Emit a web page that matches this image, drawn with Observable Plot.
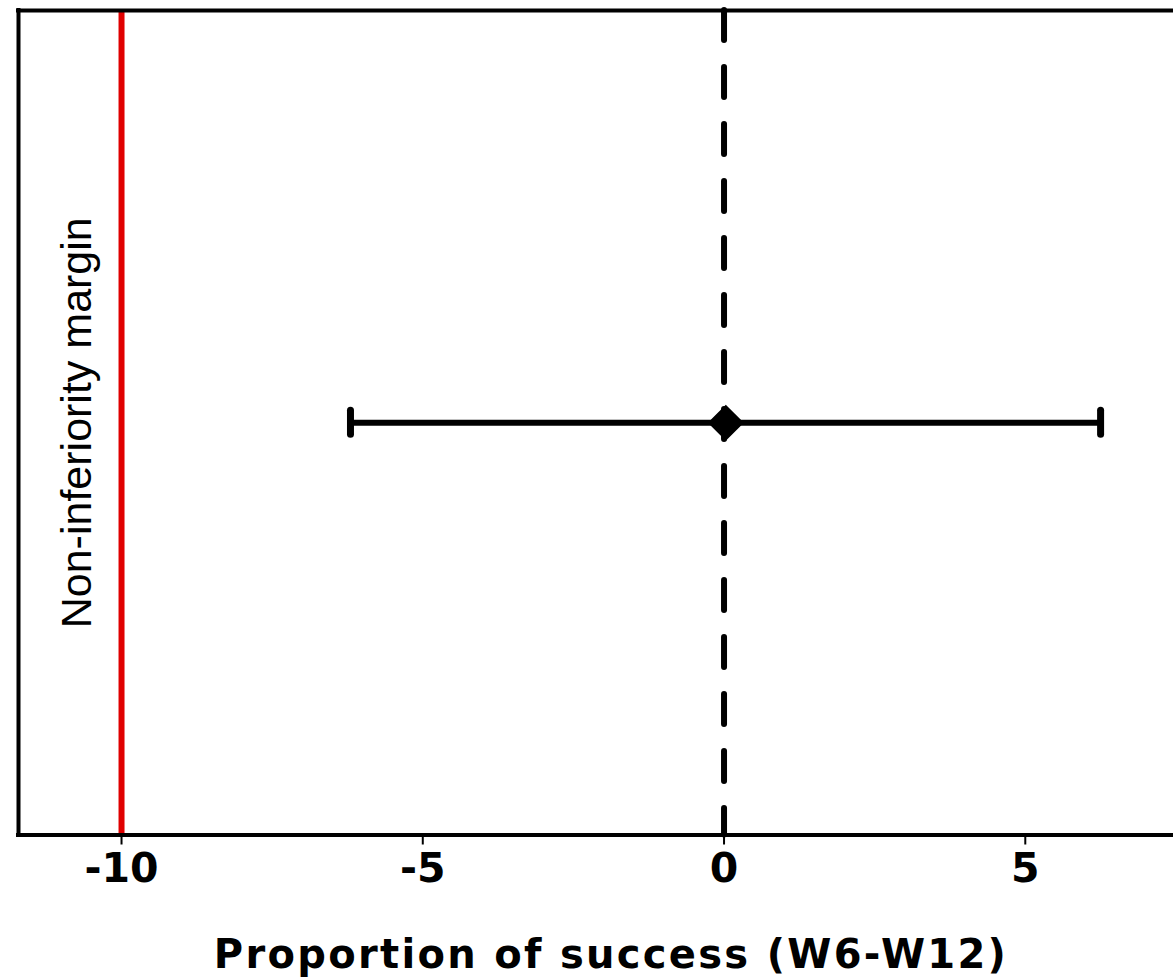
<!DOCTYPE html>
<html>
<head>
<meta charset="utf-8">
<script src="https://cdn.jsdelivr.net/npm/d3@7"></script>
<script src="https://cdn.jsdelivr.net/npm/@observablehq/plot@0.6"></script>
<style>
  html, body { margin: 0; padding: 0; background: #fff; }
</style>
</head>
<body>
<div id="chart"></div>
<script>
// ---- data ----
const rows = [1];                 // single comparison row
const estimate = [0.03];          // point estimate
const lower = [-6.2];             // lower CI bound
const upper = [6.25];             // upper CI bound
const marginValue = [-10];        // non-inferiority margin
const referenceValue = [0];       // no-difference line
const xTicks = [-10, -5, 0, 5];
const xDomain = [-11.71, 7.46];
const yDomain = [0, 2];
const marginLabel = "Non-inferiority margin";
const xTitle = "Proportion of success (W6-W12)";

const ci = rows.map((r, i) => ({row: r, est: estimate[i], lo: lower[i], hi: upper[i]}));

const chart = Plot.plot({
  width: 1173,
  height: 978,
  marginLeft: 18,
  marginTop: 10,
  marginBottom: 143.5,
  marginRight: 0,
  style: {background: "#fff", color: "#000", fontFamily: "'DejaVu Sans', sans-serif"},
  x: {domain: xDomain, ticks: xTicks},
  y: {domain: yDomain, axis: null},
  marks: [
    // margin and reference lines
    Plot.ruleX(marginValue, {stroke: "#e00000", strokeWidth: 6}),
    Plot.ruleX(referenceValue, {stroke: "#000", strokeWidth: 6, strokeDasharray: "30,27", strokeLinecap: "round"}),
    // frame (left, top, bottom)
    Plot.ruleY(yDomain, {stroke: "#000", strokeWidth: 4, strokeLinecap: "square"}),
    Plot.ruleX([xDomain[0]], {stroke: "#000", strokeWidth: 4, strokeLinecap: "square"}),
    // confidence interval
    Plot.ruleY(ci, {y: "row", x1: "lo", x2: "hi", stroke: "#000", strokeWidth: 6}),
    Plot.ruleX(ci, {x: "lo", y1: "row", y2: "row", insetTop: -12, insetBottom: -12, stroke: "#000", strokeWidth: 7, strokeLinecap: "round"}),
    Plot.ruleX(ci, {x: "hi", y1: "row", y2: "row", insetTop: -12, insetBottom: -12, stroke: "#000", strokeWidth: 7, strokeLinecap: "round"}),
    Plot.dot(ci, {x: "est", y: "row", symbol: "diamond2", r: 15, fill: "#000", stroke: "#000", strokeWidth: 2}),
    // margin label
    Plot.text([marginLabel], {x: marginValue[0], text: d => d, rotate: -90, dx: -31, lineAnchor: "bottom",
      fontSize: 43, fontFamily: "'Liberation Sans', Arial, sans-serif", fill: "#000"}),
    // x axis
    Plot.axisX({ticks: xTicks, tickSize: 10, tickPadding: 8, strokeWidth: 2, fontSize: 41, fontWeight: "bold",
      fontFamily: "'DejaVu Sans', sans-serif", label: null, tickFormat: d => d < 0 ? "-" + Math.abs(d) : String(d)}),
    // x title
    Plot.text([xTitle], {frameAnchor: "bottom", text: d => d, dy: 132.5, dx: 15, lineAnchor: "bottom",
      fontSize: 40, fontWeight: "bold", fontFamily: "'DejaVu Sans', sans-serif", fill: "#000"})
  ]
});
// widen the title's letter spacing to match the reference's wide lettering
d3.select(chart).selectAll("text").filter(function() { return this.textContent === xTitle; })
  .style("letter-spacing", "2.3px");
document.getElementById("chart").appendChild(chart);
</script>
</body>
</html>
